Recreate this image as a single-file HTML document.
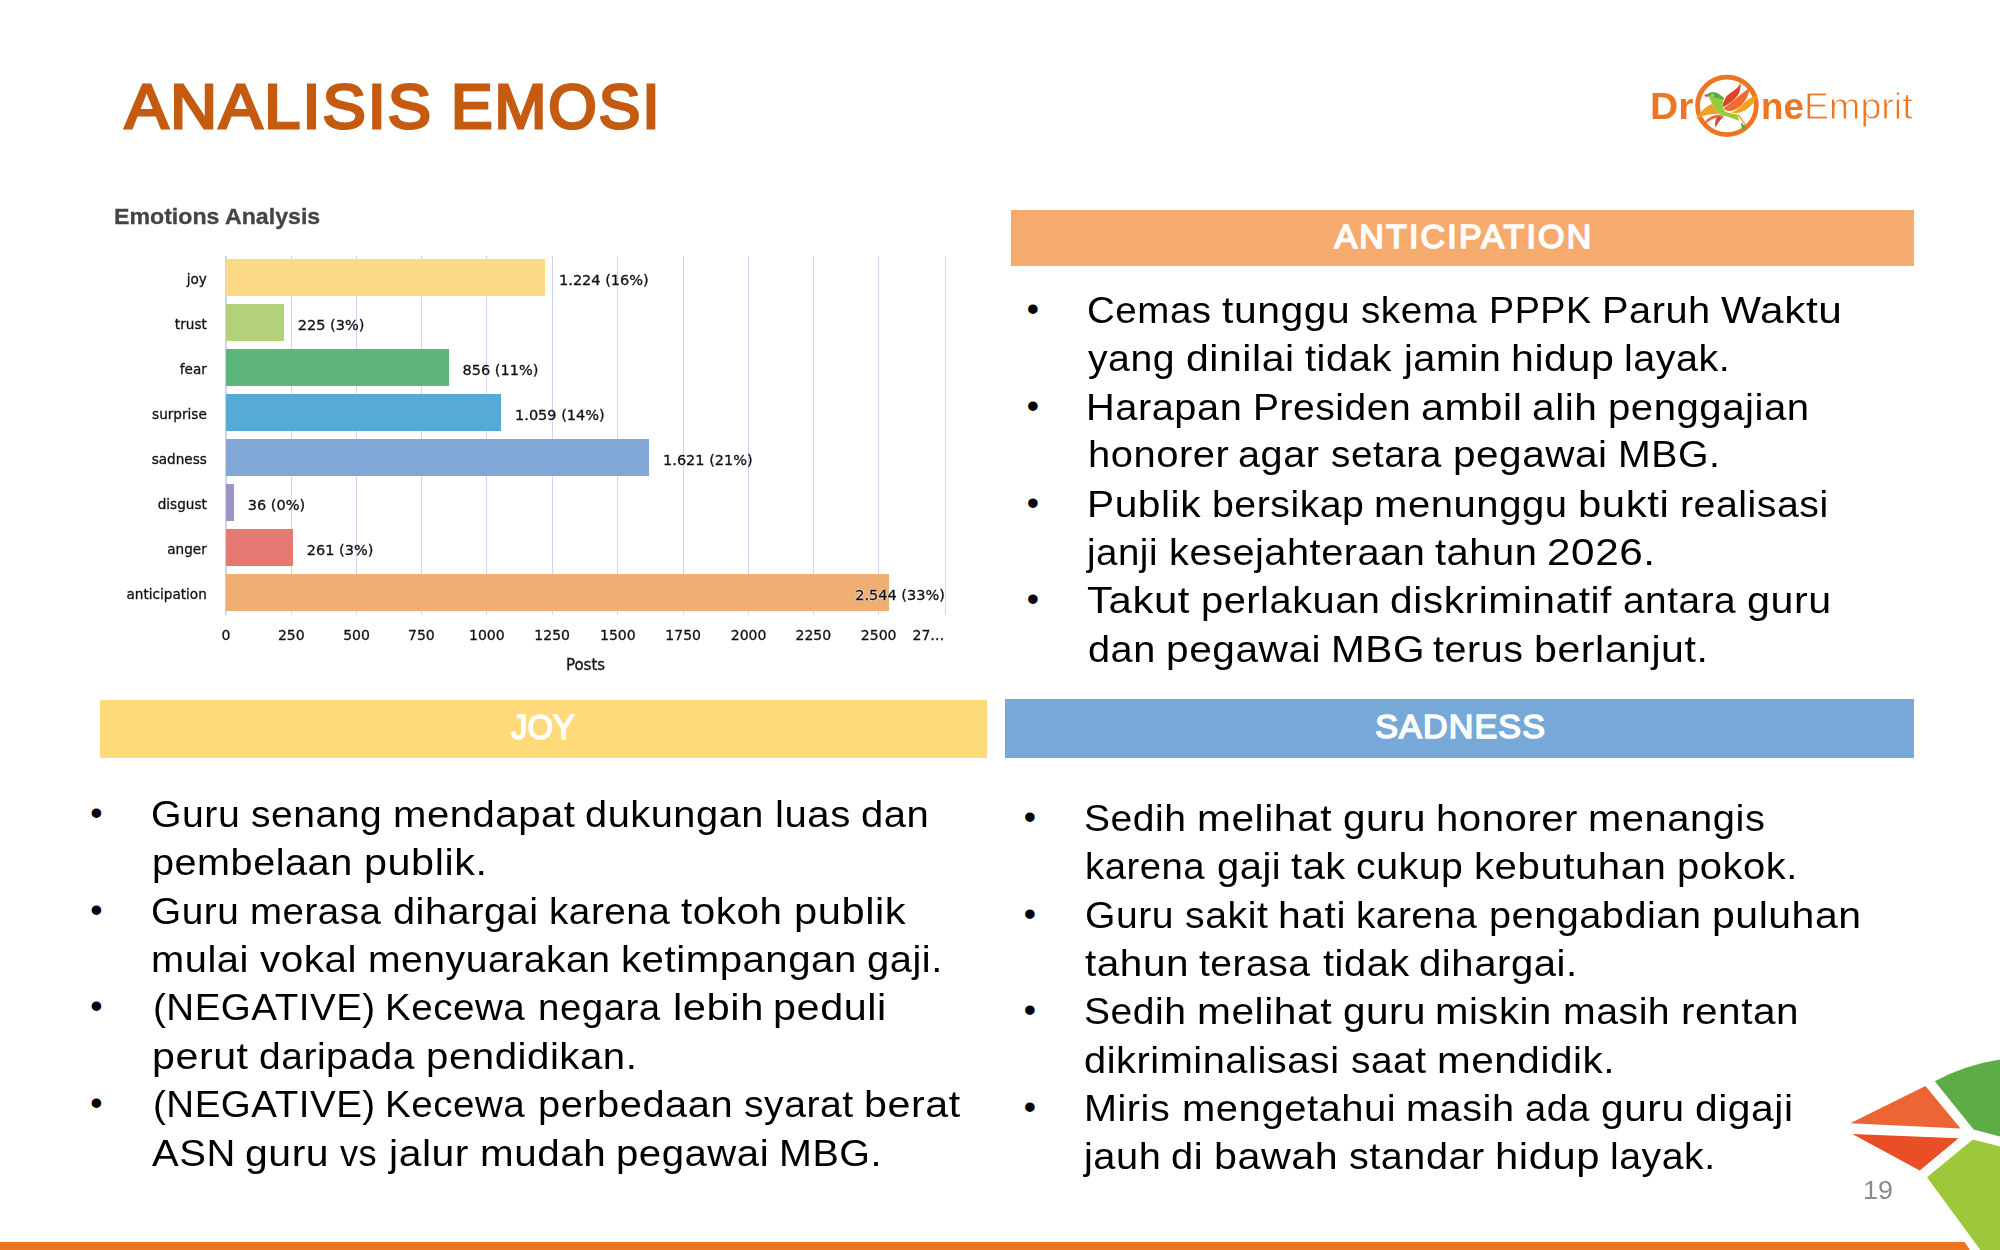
<!DOCTYPE html>
<html lang="id"><head><meta charset="utf-8"><title>Analisis Emosi</title>
<style>
html,body{margin:0;padding:0;background:#fff;}
body{width:2000px;height:1250px;position:relative;overflow:hidden;font-family:"Liberation Sans",sans-serif;}
.ln{position:absolute;white-space:nowrap;line-height:1;margin:0;padding:0;transform-origin:0 0;}
.b{color:#000;font-weight:400;}
.w{position:absolute;top:0;white-space:nowrap;transform-origin:0 0;}
.t{color:#C55A11;font-weight:400;-webkit-text-stroke:3px #C55A11;}
.h{color:#fff;font-weight:400;-webkit-text-stroke:1.7px #fff;}
.pg{color:#8a8a8a;}
.lg{color:#EE7623;}
.lb{font-weight:700;}
.ll{font-weight:400;-webkit-text-stroke:0.8px #fff;}
.ct{color:#444;font-weight:700;-webkit-text-stroke:0.3px #444;filter:blur(0.35px);}
.band{position:absolute;}
.bar{position:absolute;}
.gl{position:absolute;width:1.3px;background:#CDD6EE;}
.cl{position:absolute;white-space:nowrap;line-height:1;font-family:"DejaVu Sans","Liberation Sans",sans-serif;color:#111;-webkit-text-stroke:0.3px #111;}
.ch{position:absolute;left:0;top:0;width:2000px;height:1250px;filter:blur(0.35px);}
svg{position:absolute;overflow:visible;}
</style></head><body>

<div class="band" style="left:1011px;top:210.1px;width:902.7px;height:56px;background:#F5AB6E"></div>
<div class="band" style="left:99.7px;top:700.1px;width:887.15px;height:57.8px;background:#FFDA7A"></div>
<div class="band" style="left:1005px;top:699.1px;width:908.7px;height:58.8px;background:#76A8D8"></div>
<div class="ch">
<div class="gl" style="left:225.40px;top:255.5px;height:359.5px"></div>
<div class="gl" style="left:290.65px;top:255.5px;height:359.5px"></div>
<div class="gl" style="left:355.90px;top:255.5px;height:359.5px"></div>
<div class="gl" style="left:420.80px;top:255.5px;height:359.5px"></div>
<div class="gl" style="left:486.20px;top:255.5px;height:359.5px"></div>
<div class="gl" style="left:551.60px;top:255.5px;height:359.5px"></div>
<div class="gl" style="left:617.20px;top:255.5px;height:359.5px"></div>
<div class="gl" style="left:682.60px;top:255.5px;height:359.5px"></div>
<div class="gl" style="left:748.00px;top:255.5px;height:359.5px"></div>
<div class="gl" style="left:812.70px;top:255.5px;height:359.5px"></div>
<div class="gl" style="left:878.10px;top:255.5px;height:359.5px"></div>
<div class="gl" style="left:944.90px;top:255.5px;height:359.5px"></div>
<div class="bar" style="left:226.3px;top:258.8px;width:318.95px;height:37.0px;background:#FBDA86"></div>
<div id="cc0" class="cl" style="right:1793.20px;top:272.94px;font-size:13.6px;letter-spacing:0px">joy</div>
<div id="cv0" class="cl" style="left:559.05px;top:272.68px;font-size:14.5px;">1.224 (16%)</div>
<div class="bar" style="left:226.3px;top:303.8px;width:57.70px;height:37.0px;background:#B3D178"></div>
<div id="cc1" class="cl" style="right:1793.20px;top:317.94px;font-size:13.6px;letter-spacing:0px">trust</div>
<div id="cv1" class="cl" style="left:297.80px;top:317.68px;font-size:14.5px;">225 (3%)</div>
<div class="bar" style="left:226.3px;top:348.8px;width:222.45px;height:37.0px;background:#5DB57C"></div>
<div id="cc2" class="cl" style="right:1793.20px;top:362.94px;font-size:13.6px;letter-spacing:0px">fear</div>
<div id="cv2" class="cl" style="left:462.55px;top:362.68px;font-size:14.5px;">856 (11%)</div>
<div class="bar" style="left:226.3px;top:393.8px;width:274.95px;height:37.0px;background:#55ABD6"></div>
<div id="cc3" class="cl" style="right:1793.20px;top:407.94px;font-size:13.6px;letter-spacing:0px">surprise</div>
<div id="cv3" class="cl" style="left:515.05px;top:407.68px;font-size:14.5px;">1.059 (14%)</div>
<div class="bar" style="left:226.3px;top:438.8px;width:422.95px;height:37.0px;background:#80A7D6"></div>
<div id="cc4" class="cl" style="right:1793.20px;top:452.94px;font-size:13.6px;letter-spacing:0px">sadness</div>
<div id="cv4" class="cl" style="left:663.05px;top:452.68px;font-size:14.5px;">1.621 (21%)</div>
<div class="bar" style="left:226.3px;top:483.8px;width:7.70px;height:37.0px;background:#A094C4"></div>
<div id="cc5" class="cl" style="right:1793.20px;top:497.94px;font-size:13.6px;letter-spacing:0px">disgust</div>
<div id="cv5" class="cl" style="left:247.80px;top:497.68px;font-size:14.5px;">36 (0%)</div>
<div class="bar" style="left:226.3px;top:528.8px;width:66.70px;height:37.0px;background:#E57872"></div>
<div id="cc6" class="cl" style="right:1793.20px;top:542.94px;font-size:13.6px;letter-spacing:0px">anger</div>
<div id="cv6" class="cl" style="left:306.80px;top:542.67px;font-size:14.5px;">261 (3%)</div>
<div class="bar" style="left:226.3px;top:573.8px;width:663.20px;height:37.0px;background:#EFAE72"></div>
<div id="cc7" class="cl" style="right:1793.20px;top:587.94px;font-size:13.6px;letter-spacing:0px">anticipation</div>
<div id="cv7" class="cl" style="left:855.20px;top:587.67px;font-size:14.5px;text-shadow:0 0 2px #fff,0 0 2px #fff,0 0 1px #fff;">2.544 (33%)</div>
<div class="cl" style="left:176.00px;width:100px;text-align:center;top:627.70px;font-size:14.0px">0</div>
<div class="cl" style="left:241.25px;width:100px;text-align:center;top:627.70px;font-size:14.0px">250</div>
<div class="cl" style="left:306.50px;width:100px;text-align:center;top:627.70px;font-size:14.0px">500</div>
<div class="cl" style="left:371.40px;width:100px;text-align:center;top:627.70px;font-size:14.0px">750</div>
<div class="cl" style="left:436.80px;width:100px;text-align:center;top:627.70px;font-size:14.0px">1000</div>
<div class="cl" style="left:502.20px;width:100px;text-align:center;top:627.70px;font-size:14.0px">1250</div>
<div class="cl" style="left:567.80px;width:100px;text-align:center;top:627.70px;font-size:14.0px">1500</div>
<div class="cl" style="left:633.20px;width:100px;text-align:center;top:627.70px;font-size:14.0px">1750</div>
<div class="cl" style="left:698.60px;width:100px;text-align:center;top:627.70px;font-size:14.0px">2000</div>
<div class="cl" style="left:763.30px;width:100px;text-align:center;top:627.70px;font-size:14.0px">2250</div>
<div class="cl" style="left:828.70px;width:100px;text-align:center;top:627.70px;font-size:14.0px">2500</div>
<div class="cl" style="left:912.50px;top:627.70px;font-size:14.0px">27…</div>
<div class="cl" style="left:535.50px;width:100px;text-align:center;top:657.55px;font-size:15.0px">Posts</div>
</div>
<div id="a1d" class="ln b dot" style="left:1012.80px;width:40px;text-align:center;top:290.67px;font-size:35.0px;">•</div>
<div id="a1" class="ln b" style="left:0;top:292.00px;width:2000px;height:37.0px;font-size:37.0px;"><span id="a1w0" class="w" style="left:1087.49px;letter-spacing:0.500px;transform:scaleX(1.0414)">Cemas</span> <span id="a1w1" class="w" style="left:1222.38px;letter-spacing:0.500px;transform:scaleX(1.1041)">tunggu</span> <span id="a1w2" class="w" style="left:1361.44px;letter-spacing:0.500px;transform:scaleX(1.0437)">skema</span> <span id="a1w3" class="w" style="left:1489.06px;letter-spacing:0.500px;transform:scaleX(1.0199)">PPPK</span> <span id="a1w4" class="w" style="left:1601.60px;letter-spacing:0.500px;transform:scaleX(1.0744)">Paruh</span> <span id="a1w5" class="w" style="left:1720.80px;letter-spacing:0.500px;transform:scaleX(1.1454)">Waktu</span></div>
<div id="a2" class="ln b" style="left:0;top:340.00px;width:2000px;height:37.0px;font-size:37.0px;"><span id="a2w0" class="w" style="left:1088.26px;letter-spacing:0.500px;transform:scaleX(1.0585)">yang</span> <span id="a2w1" class="w" style="left:1185.68px;letter-spacing:0.500px;transform:scaleX(1.1078)">dinilai</span> <span id="a2w2" class="w" style="left:1304.79px;letter-spacing:0.500px;transform:scaleX(1.0779)">tidak</span> <span id="a2w3" class="w" style="left:1403.91px;letter-spacing:0.500px;transform:scaleX(1.0719)">jamin</span> <span id="a2w4" class="w" style="left:1510.58px;letter-spacing:0.500px;transform:scaleX(1.1115)">hidup</span> <span id="a2w5" class="w" style="left:1624.18px;letter-spacing:0.500px;transform:scaleX(1.0662)">layak.</span></div>
<div id="a3d" class="ln b dot" style="left:1012.80px;width:40px;text-align:center;top:387.67px;font-size:35.0px;">•</div>
<div id="a3" class="ln b" style="left:0;top:389.00px;width:2000px;height:37.0px;font-size:37.0px;"><span id="a3w0" class="w" style="left:1086.38px;letter-spacing:0.500px;transform:scaleX(1.0747)">Harapan</span> <span id="a3w1" class="w" style="left:1253.40px;letter-spacing:0.500px;transform:scaleX(1.0543)">Presiden</span> <span id="a3w2" class="w" style="left:1421.14px;letter-spacing:0.500px;transform:scaleX(1.1149)">ambil</span> <span id="a3w3" class="w" style="left:1532.14px;letter-spacing:0.500px;transform:scaleX(1.0981)">alih</span> <span id="a3w4" class="w" style="left:1607.81px;letter-spacing:0.500px;transform:scaleX(1.0835)">penggajian</span></div>
<div id="a4" class="ln b" style="left:0;top:436.00px;width:2000px;height:37.0px;font-size:37.0px;"><span id="a4w0" class="w" style="left:1087.79px;letter-spacing:0.500px;transform:scaleX(1.0795)">honorer</span> <span id="a4w1" class="w" style="left:1238.46px;letter-spacing:0.500px;transform:scaleX(1.0708)">agar</span> <span id="a4w2" class="w" style="left:1330.54px;letter-spacing:0.500px;transform:scaleX(1.0461)">setara</span> <span id="a4w3" class="w" style="left:1453.38px;letter-spacing:0.500px;transform:scaleX(1.0937)">pegawai</span> <span id="a4w4" class="w" style="left:1618.11px;letter-spacing:0.500px;transform:scaleX(1.0604)">MBG.</span></div>
<div id="a5d" class="ln b dot" style="left:1012.80px;width:40px;text-align:center;top:484.67px;font-size:35.0px;">•</div>
<div id="a5" class="ln b" style="left:0;top:486.00px;width:2000px;height:37.0px;font-size:37.0px;"><span id="a5w0" class="w" style="left:1087.02px;letter-spacing:0.500px;transform:scaleX(1.0992)">Publik</span> <span id="a5w1" class="w" style="left:1212.06px;letter-spacing:0.500px;transform:scaleX(1.0596)">bersikap</span> <span id="a5w2" class="w" style="left:1374.17px;letter-spacing:0.500px;transform:scaleX(1.0821)">menunggu</span> <span id="a5w3" class="w" style="left:1577.91px;letter-spacing:0.500px;transform:scaleX(1.1321)">bukti</span> <span id="a5w4" class="w" style="left:1679.65px;letter-spacing:0.500px;transform:scaleX(1.0610)">realisasi</span></div>
<div id="a6" class="ln b" style="left:0;top:534.00px;width:2000px;height:37.0px;font-size:37.0px;"><span id="a6w0" class="w" style="left:1086.70px;letter-spacing:0.500px;transform:scaleX(1.0388)">janji</span> <span id="a6w1" class="w" style="left:1168.67px;letter-spacing:0.500px;transform:scaleX(1.0728)">kesejahteraan</span> <span id="a6w2" class="w" style="left:1434.99px;letter-spacing:0.500px;transform:scaleX(1.0759)">tahun</span> <span id="a6w3" class="w" style="left:1546.88px;letter-spacing:0.500px;transform:scaleX(1.1421)">2026.</span></div>
<div id="a7d" class="ln b dot" style="left:1012.80px;width:40px;text-align:center;top:580.67px;font-size:35.0px;">•</div>
<div id="a7" class="ln b" style="left:0;top:582.00px;width:2000px;height:37.0px;font-size:37.0px;"><span id="a7w0" class="w" style="left:1087.30px;letter-spacing:0.500px;transform:scaleX(1.1326)">Takut</span> <span id="a7w1" class="w" style="left:1200.52px;letter-spacing:0.500px;transform:scaleX(1.0750)">perlakuan</span> <span id="a7w2" class="w" style="left:1390.09px;letter-spacing:0.500px;transform:scaleX(1.0999)">diskriminatif</span> <span id="a7w3" class="w" style="left:1623.10px;letter-spacing:0.500px;transform:scaleX(1.0493)">antara</span> <span id="a7w4" class="w" style="left:1747.35px;letter-spacing:0.500px;transform:scaleX(1.1127)">guru</span></div>
<div id="a8" class="ln b" style="left:0;top:631.00px;width:2000px;height:37.0px;font-size:37.0px;"><span id="a8w0" class="w" style="left:1087.76px;letter-spacing:0.500px;transform:scaleX(1.0718)">dan</span> <span id="a8w1" class="w" style="left:1165.78px;letter-spacing:0.500px;transform:scaleX(1.0973)">pegawai</span> <span id="a8w2" class="w" style="left:1331.04px;letter-spacing:0.500px;transform:scaleX(1.0952)">MBG</span> <span id="a8w3" class="w" style="left:1433.40px;letter-spacing:0.500px;transform:scaleX(1.0666)">terus</span> <span id="a8w4" class="w" style="left:1534.12px;letter-spacing:0.500px;transform:scaleX(1.1093)">berlanjut.</span></div>
<div id="j1d" class="ln b dot" style="left:76.40px;width:40px;text-align:center;top:794.67px;font-size:35.0px;">•</div>
<div id="j1" class="ln b" style="left:0;top:796.00px;width:2000px;height:37.0px;font-size:37.0px;"><span id="j1w0" class="w" style="left:150.98px;letter-spacing:0.500px;transform:scaleX(1.0598)">Guru</span> <span id="j1w1" class="w" style="left:250.83px;letter-spacing:0.500px;transform:scaleX(1.0541)">senang</span> <span id="j1w2" class="w" style="left:392.67px;letter-spacing:0.500px;transform:scaleX(1.0827)">mendapat</span> <span id="j1w3" class="w" style="left:585.30px;letter-spacing:0.500px;transform:scaleX(1.0744)">dukungan</span> <span id="j1w4" class="w" style="left:774.97px;letter-spacing:0.500px;transform:scaleX(1.0845)">luas</span> <span id="j1w5" class="w" style="left:860.74px;letter-spacing:0.500px;transform:scaleX(1.0823)">dan</span></div>
<div id="j2" class="ln b" style="left:0;top:844.00px;width:2000px;height:37.0px;font-size:37.0px;"><span id="j2w0" class="w" style="left:152.04px;letter-spacing:0.500px;transform:scaleX(1.0698)">pembelaan</span> <span id="j2w1" class="w" style="left:363.52px;letter-spacing:0.500px;transform:scaleX(1.1176)">publik.</span></div>
<div id="j3d" class="ln b dot" style="left:76.40px;width:40px;text-align:center;top:891.67px;font-size:35.0px;">•</div>
<div id="j3" class="ln b" style="left:0;top:893.00px;width:2000px;height:37.0px;font-size:37.0px;"><span id="j3w0" class="w" style="left:151.19px;letter-spacing:0.500px;transform:scaleX(1.0475)">Guru</span> <span id="j3w1" class="w" style="left:250.21px;letter-spacing:0.500px;transform:scaleX(1.0392)">merasa</span> <span id="j3w2" class="w" style="left:392.82px;letter-spacing:0.500px;transform:scaleX(1.0732)">dihargai</span> <span id="j3w3" class="w" style="left:549.13px;letter-spacing:0.500px;transform:scaleX(1.0451)">karena</span> <span id="j3w4" class="w" style="left:681.48px;letter-spacing:0.500px;transform:scaleX(1.0903)">tokoh</span> <span id="j3w5" class="w" style="left:793.99px;letter-spacing:0.500px;transform:scaleX(1.1249)">publik</span></div>
<div id="j4" class="ln b" style="left:0;top:941.00px;width:2000px;height:37.0px;font-size:37.0px;"><span id="j4w0" class="w" style="left:151.39px;letter-spacing:0.500px;transform:scaleX(1.0769)">mulai</span> <span id="j4w1" class="w" style="left:259.81px;letter-spacing:0.500px;transform:scaleX(1.0929)">vokal</span> <span id="j4w2" class="w" style="left:367.54px;letter-spacing:0.500px;transform:scaleX(1.0557)">menyuarakan</span> <span id="j4w3" class="w" style="left:620.64px;letter-spacing:0.500px;transform:scaleX(1.0850)">ketimpangan</span> <span id="j4w4" class="w" style="left:866.69px;letter-spacing:0.500px;transform:scaleX(1.0784)">gaji.</span></div>
<div id="j5d" class="ln b dot" style="left:76.40px;width:40px;text-align:center;top:987.67px;font-size:35.0px;">•</div>
<div id="j5" class="ln b" style="left:0;top:989.00px;width:2000px;height:37.0px;font-size:37.0px;"><span id="j5w0" class="w" style="left:153.21px;letter-spacing:0.500px;transform:scaleX(1.0406)">(NEGATIVE)</span> <span id="j5w1" class="w" style="left:385.38px;letter-spacing:0.500px;transform:scaleX(1.0416)">Kecewa</span> <span id="j5w2" class="w" style="left:538.12px;letter-spacing:0.500px;transform:scaleX(1.0380)">negara</span> <span id="j5w3" class="w" style="left:672.85px;letter-spacing:0.500px;transform:scaleX(1.1267)">lebih</span> <span id="j5w4" class="w" style="left:773.42px;letter-spacing:0.500px;transform:scaleX(1.1179)">peduli</span></div>
<div id="j6" class="ln b" style="left:0;top:1038.00px;width:2000px;height:37.0px;font-size:37.0px;"><span id="j6w0" class="w" style="left:152.09px;letter-spacing:0.500px;transform:scaleX(1.1120)">perut</span> <span id="j6w1" class="w" style="left:258.76px;letter-spacing:0.500px;transform:scaleX(1.0529)">daripada</span> <span id="j6w2" class="w" style="left:426.36px;letter-spacing:0.500px;transform:scaleX(1.0857)">pendidikan.</span></div>
<div id="j7d" class="ln b dot" style="left:76.40px;width:40px;text-align:center;top:1084.67px;font-size:35.0px;">•</div>
<div id="j7" class="ln b" style="left:0;top:1086.00px;width:2000px;height:37.0px;font-size:37.0px;"><span id="j7w0" class="w" style="left:153.21px;letter-spacing:0.500px;transform:scaleX(1.0406)">(NEGATIVE)</span> <span id="j7w1" class="w" style="left:385.38px;letter-spacing:0.500px;transform:scaleX(1.0416)">Kecewa</span> <span id="j7w2" class="w" style="left:537.72px;letter-spacing:0.500px;transform:scaleX(1.0754)">perbedaan</span> <span id="j7w3" class="w" style="left:743.82px;letter-spacing:0.500px;transform:scaleX(1.0576)">syarat</span> <span id="j7w4" class="w" style="left:863.92px;letter-spacing:0.500px;transform:scaleX(1.1133)">berat</span></div>
<div id="j8" class="ln b" style="left:0;top:1135.00px;width:2000px;height:37.0px;font-size:37.0px;"><span id="j8w0" class="w" style="left:151.82px;letter-spacing:0.500px;transform:scaleX(1.0808)">ASN</span> <span id="j8w1" class="w" style="left:245.07px;letter-spacing:0.500px;transform:scaleX(1.1065)">guru</span> <span id="j8w2" class="w" style="left:340.20px;letter-spacing:0.500px;transform:scaleX(0.9782)">vs</span> <span id="j8w3" class="w" style="left:389.45px;letter-spacing:0.500px;transform:scaleX(1.1050)">jalur</span> <span id="j8w4" class="w" style="left:479.70px;letter-spacing:0.500px;transform:scaleX(1.0915)">mudah</span> <span id="j8w5" class="w" style="left:616.21px;letter-spacing:0.500px;transform:scaleX(1.0836)">pegawai</span> <span id="j8w6" class="w" style="left:779.07px;letter-spacing:0.500px;transform:scaleX(1.0675)">MBG.</span></div>
<div id="s1d" class="ln b dot" style="left:1010.00px;width:40px;text-align:center;top:798.67px;font-size:35.0px;">•</div>
<div id="s1" class="ln b" style="left:0;top:800.00px;width:2000px;height:37.0px;font-size:37.0px;"><span id="s1w0" class="w" style="left:1084.27px;letter-spacing:0.500px;transform:scaleX(1.0549)">Sedih</span> <span id="s1w1" class="w" style="left:1197.43px;letter-spacing:0.500px;transform:scaleX(1.0996)">melihat</span> <span id="s1w2" class="w" style="left:1342.60px;letter-spacing:0.500px;transform:scaleX(1.0924)">guru</span> <span id="s1w3" class="w" style="left:1435.53px;letter-spacing:0.500px;transform:scaleX(1.0838)">honorer</span> <span id="s1w4" class="w" style="left:1587.58px;letter-spacing:0.500px;transform:scaleX(1.0795)">menangis</span></div>
<div id="s2" class="ln b" style="left:0;top:848.00px;width:2000px;height:37.0px;font-size:37.0px;"><span id="s2w0" class="w" style="left:1084.76px;letter-spacing:0.500px;transform:scaleX(1.0342)">karena</span> <span id="s2w1" class="w" style="left:1216.98px;letter-spacing:0.500px;transform:scaleX(1.0767)">gaji</span> <span id="s2w2" class="w" style="left:1290.99px;letter-spacing:0.500px;transform:scaleX(1.0785)">tak</span> <span id="s2w3" class="w" style="left:1356.26px;letter-spacing:0.500px;transform:scaleX(1.0607)">cukup</span> <span id="s2w4" class="w" style="left:1474.15px;letter-spacing:0.500px;transform:scaleX(1.0854)">kebutuhan</span> <span id="s2w5" class="w" style="left:1677.12px;letter-spacing:0.500px;transform:scaleX(1.0784)">pokok.</span></div>
<div id="s3d" class="ln b dot" style="left:1010.00px;width:40px;text-align:center;top:895.67px;font-size:35.0px;">•</div>
<div id="s3" class="ln b" style="left:0;top:897.00px;width:2000px;height:37.0px;font-size:37.0px;"><span id="s3w0" class="w" style="left:1084.54px;letter-spacing:0.500px;transform:scaleX(1.0561)">Guru</span> <span id="s3w1" class="w" style="left:1184.62px;letter-spacing:0.500px;transform:scaleX(1.0611)">sakit</span> <span id="s3w2" class="w" style="left:1277.98px;letter-spacing:0.500px;transform:scaleX(1.1030)">hati</span> <span id="s3w3" class="w" style="left:1356.03px;letter-spacing:0.500px;transform:scaleX(1.0451)">karena</span> <span id="s3w4" class="w" style="left:1489.43px;letter-spacing:0.500px;transform:scaleX(1.0707)">pengabdian</span> <span id="s3w5" class="w" style="left:1712.05px;letter-spacing:0.500px;transform:scaleX(1.1061)">puluhan</span></div>
<div id="s4" class="ln b" style="left:0;top:945.00px;width:2000px;height:37.0px;font-size:37.0px;"><span id="s4w0" class="w" style="left:1084.88px;letter-spacing:0.500px;transform:scaleX(1.0935)">tahun</span> <span id="s4w1" class="w" style="left:1199.20px;letter-spacing:0.500px;transform:scaleX(1.0533)">terasa</span> <span id="s4w2" class="w" style="left:1322.59px;letter-spacing:0.500px;transform:scaleX(1.0761)">tidak</span> <span id="s4w3" class="w" style="left:1419.11px;letter-spacing:0.500px;transform:scaleX(1.0842)">dihargai.</span></div>
<div id="s5d" class="ln b dot" style="left:1010.00px;width:40px;text-align:center;top:991.67px;font-size:35.0px;">•</div>
<div id="s5" class="ln b" style="left:0;top:993.00px;width:2000px;height:37.0px;font-size:37.0px;"><span id="s5w0" class="w" style="left:1084.27px;letter-spacing:0.500px;transform:scaleX(1.0549)">Sedih</span> <span id="s5w1" class="w" style="left:1197.43px;letter-spacing:0.500px;transform:scaleX(1.0996)">melihat</span> <span id="s5w2" class="w" style="left:1342.60px;letter-spacing:0.500px;transform:scaleX(1.0924)">guru</span> <span id="s5w3" class="w" style="left:1435.45px;letter-spacing:0.500px;transform:scaleX(1.0827)">miskin</span> <span id="s5w4" class="w" style="left:1562.72px;letter-spacing:0.500px;transform:scaleX(1.0592)">masih</span> <span id="s5w5" class="w" style="left:1680.97px;letter-spacing:0.500px;transform:scaleX(1.0946)">rentan</span></div>
<div id="s6" class="ln b" style="left:0;top:1042.00px;width:2000px;height:37.0px;font-size:37.0px;"><span id="s6w0" class="w" style="left:1084.23px;letter-spacing:0.500px;transform:scaleX(1.0753)">dikriminalisasi</span> <span id="s6w1" class="w" style="left:1350.82px;letter-spacing:0.500px;transform:scaleX(1.0497)">saat</span> <span id="s6w2" class="w" style="left:1436.65px;letter-spacing:0.500px;transform:scaleX(1.0937)">mendidik.</span></div>
<div id="s7d" class="ln b dot" style="left:1010.00px;width:40px;text-align:center;top:1088.67px;font-size:35.0px;">•</div>
<div id="s7" class="ln b" style="left:0;top:1090.00px;width:2000px;height:37.0px;font-size:37.0px;"><span id="s7w0" class="w" style="left:1084.48px;letter-spacing:0.500px;transform:scaleX(1.0705)">Miris</span> <span id="s7w1" class="w" style="left:1181.68px;letter-spacing:0.500px;transform:scaleX(1.0803)">mengetahui</span> <span id="s7w2" class="w" style="left:1405.75px;letter-spacing:0.500px;transform:scaleX(1.0731)">masih</span> <span id="s7w3" class="w" style="left:1525.27px;letter-spacing:0.500px;transform:scaleX(1.0261)">ada</span> <span id="s7w4" class="w" style="left:1600.86px;letter-spacing:0.500px;transform:scaleX(1.0983)">guru</span> <span id="s7w5" class="w" style="left:1694.52px;letter-spacing:0.500px;transform:scaleX(1.1026)">digaji</span></div>
<div id="s8" class="ln b" style="left:0;top:1138.00px;width:2000px;height:37.0px;font-size:37.0px;"><span id="s8w0" class="w" style="left:1084.41px;letter-spacing:0.500px;transform:scaleX(1.0748)">jauh</span> <span id="s8w1" class="w" style="left:1171.21px;letter-spacing:0.500px;transform:scaleX(1.0809)">di</span> <span id="s8w2" class="w" style="left:1214.21px;letter-spacing:0.500px;transform:scaleX(1.1143)">bawah</span> <span id="s8w3" class="w" style="left:1348.70px;letter-spacing:0.500px;transform:scaleX(1.0689)">standar</span> <span id="s8w4" class="w" style="left:1494.78px;letter-spacing:0.500px;transform:scaleX(1.1292)">hidup</span> <span id="s8w5" class="w" style="left:1609.90px;letter-spacing:0.500px;transform:scaleX(1.0600)">layak.</span></div>
<div id="title" class="ln t" style="left:0;top:73.65px;width:2000px;height:63.6px;font-size:63.6px;"><span id="titlew0" class="w" style="left:124.69px;letter-spacing:2.000px;transform:scaleX(1.0190)">ANALISIS</span> <span id="titlew1" class="w" style="left:450.69px;letter-spacing:2.000px;transform:scaleX(0.9794)">EMOSI</span></div>
<div id="hA" class="ln h" style="left:1334.54px;top:219.21px;font-size:34.0px;letter-spacing:2.160px;transform:scaleX(1.0000);">ANTICIPATION</div>
<div id="hJ" class="ln h" style="left:510.87px;top:708.87px;font-size:35.0px;transform:scaleX(0.9360);">JOY</div>
<div id="hS" class="ln h" style="left:1375.23px;top:709.31px;font-size:34.0px;letter-spacing:1.186px;transform:scaleX(1.0000);">SADNESS</div>
<div id="pg" class="ln pg" style="left:1863.25px;top:1177.91px;font-size:25.5px;transform:scaleX(1.0556);">19</div>
<div id="lg1" class="ln lg lb" style="left:1650.05px;top:89.04px;font-size:36.8px;transform:scaleX(1.0609);">Dr</div>
<div id="lg2" class="ln lg lb" style="left:1760.96px;top:89.04px;font-size:36.8px;transform:scaleX(1.0006);">ne</div>
<div id="lg3" class="ln lg ll" style="left:1803.77px;top:89.04px;font-size:36.8px;transform:scaleX(1.0218);">Emprit</div>
<div id="ct" class="ln ct" style="left:113.74px;top:206.13px;font-size:22.4px;transform:scaleX(1.0335);">Emotions Analysis</div>
<svg style="left:1690px;top:70px" width="80" height="70" viewBox="0 0 1429 1250">
<ellipse cx="660" cy="640" rx="524" ry="513" fill="none" stroke="#EE7623" stroke-width="86"/>
<path d="M110,882 C140,800 215,715 300,655 C330,635 360,618 392,605 C420,680 470,750 545,792 C450,780 350,788 250,815 C200,830 150,858 110,882 Z" fill="#F0A023"/>
<path d="M248,988 C265,900 330,845 420,815 C460,803 500,800 545,800 L605,822 C540,830 470,850 410,875 C340,905 290,945 248,988 Z" fill="#EE6633"/>
<path d="M455,1035 C440,960 450,900 480,850 C520,835 560,828 607,825 C560,870 520,915 495,960 C480,985 465,1010 455,1035 Z" fill="#DD4429"/>
<path d="M590,652 C585,600 600,545 650,472 C690,425 760,385 830,330 C870,295 890,260 900,213 C915,300 895,390 855,450 C800,530 700,605 600,662 Z" fill="#DC4428"/>
<path d="M598,684 C700,612 800,525 900,442 C960,395 1020,355 1066,313 C1060,400 1030,480 990,540 C940,610 880,670 800,712 C730,745 660,745 598,684 Z" fill="#EE6C2E"/>
<path d="M738,762 C800,735 860,695 935,615 C990,560 1050,520 1100,492 C1140,472 1175,458 1207,438 C1190,520 1140,590 1080,645 C1020,700 960,740 890,758 C840,770 790,770 738,762 Z" fill="#F0A023"/>
<path d="M862,796 L995,990" stroke="#F0A023" stroke-width="26" fill="none"/>
<path d="M905,938 L1024,1026 L930,1074 Z" fill="#5AAA46"/>
<path d="M320,470 C420,470 520,500 592,540 C580,620 585,700 640,745 C700,775 790,780 845,790 L878,905 C760,860 640,830 560,800 C480,760 430,700 400,625 C380,570 350,510 320,470 Z" fill="#9CC93A"/>
<path d="M318,422 C370,385 450,388 505,420 C545,445 580,475 610,500 L592,542 C520,505 430,478 328,470 Z" fill="#5AAA46"/>
<ellipse cx="298" cy="455" rx="40" ry="24" fill="#E0453A"/>
<circle cx="402" cy="452" r="20" fill="#fff"/><circle cx="402" cy="452" r="11" fill="#7DBB42"/>
</svg>
<svg style="left:0;top:0" width="2000" height="1250" viewBox="0 0 2000 1250">
<polygon points="0,1242 1964.6,1242 1970,1250 0,1250" fill="#EE7520"/>
<polygon points="1850.2,1123.3 1925.4,1086 1960.6,1128.6" fill="#EE6535"/>
<polygon points="1852.3,1133.9 1958.5,1138.3 1919.7,1170.5" fill="#E94E27"/>
<path d="M1934.8,1081.2 Q1966,1064.8 2000,1059.6 L2000,1136.4 L1973.6,1129.6 Z" fill="#5EAC46"/>
<path d="M1972.9,1139.5 L2000,1146.5 L2000,1250 L1980.4,1250 L1927,1177.2 Z" fill="#9DC83B"/>
</svg>
</body></html>
